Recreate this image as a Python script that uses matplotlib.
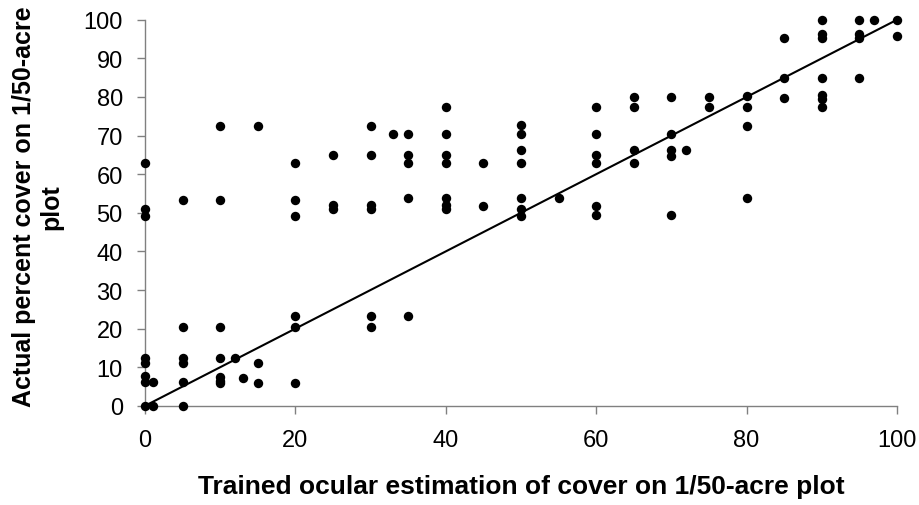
import matplotlib
matplotlib.use("Agg")
import matplotlib.pyplot as plt

# Trained ocular estimation (x) vs actual percent cover (y)
est_x = [0, 0, 0, 0, 0, 0, 0, 0,
         1, 1,
         5, 5, 5, 5, 5, 5,
         10, 10, 10, 10, 10, 10, 10,
         12, 13,
         15, 15, 15,
         20, 20, 20, 20, 20, 20,
         25, 25, 25,
         30, 30, 30, 30, 30, 30,
         33,
         35, 35, 35, 35, 35,
         40, 40, 40, 40, 40, 40, 40,
         45, 45,
         50, 50, 50, 50, 50, 50, 50,
         55,
         60, 60, 60, 60, 60, 60,
         65, 65, 65, 65,
         70, 70, 70, 70, 70,
         72,
         75, 75,
         80, 80, 80, 80,
         85, 85, 85,
         90, 90, 90, 90, 90, 90, 90,
         95, 95, 95, 95,
         97,
         100, 100]
actual_y = [62.8, 51, 49.2, 12.5, 11.2, 7.8, 6.2, 0,
            6.2, 0,
            53.4, 20.3, 12.5, 11.2, 6.2, 0,
            72.5, 53.4, 20.3, 12.5, 7.5, 6.5, 5.8,
            12.5, 7.2,
            72.5, 11.0, 5.8,
            62.8, 53.4, 49.2, 23.3, 20.3, 5.8,
            64.9, 52, 51,
            72.5, 64.9, 52, 51, 23.3, 20.3,
            70.5,
            70.5, 64.9, 62.8, 53.9, 23.3,
            77.3, 70.5, 64.9, 62.8, 53.9, 52, 51,
            62.8, 51.8,
            72.7, 70.5, 66.3, 62.8, 53.9, 51, 49.2,
            53.9,
            77.3, 70.5, 64.9, 62.8, 51.8, 49.4,
            79.9, 77.3, 66.3, 62.8,
            79.9, 70.5, 66.3, 64.8, 49.4,
            66.3,
            79.9, 77.3,
            80.3, 77.3, 72.5, 53.9,
            95.3, 84.9, 79.8,
            100, 96.3, 95.2, 84.9, 80.5, 79.5, 77.3,
            100, 96.3, 95.2, 84.9,
            100,
            100, 95.9]

line_x = [0, 100]
line_y = [0, 100]

x_ticks = [0, 20, 40, 60, 80, 100]
y_ticks = [0, 10, 20, 30, 40, 50, 60, 70, 80, 90, 100]

plt.rcParams['font.family'] = ['Liberation Sans', 'DejaVu Sans']

fig = plt.figure(figsize=(9.2, 5.06), dpi=100)
ax = fig.add_axes([0.1576, 0.196, 0.8174, 0.763])

ax.plot(line_x, line_y, color='black', lw=1.5, zorder=2, solid_capstyle='butt')
ax.scatter(est_x, actual_y, s=46, color='black', zorder=3, clip_on=False, linewidths=0)

ax.set_xlim(0, 100)
ax.set_ylim(0, 100)
ax.set_xticks(x_ticks)
ax.set_yticks(y_ticks)
ax.set_xticklabels([str(v) for v in x_ticks])
ax.set_yticklabels([str(v) for v in y_ticks])

for side in ['top', 'right']:
    ax.spines[side].set_visible(False)
for side in ['left', 'bottom']:
    ax.spines[side].set_color('#808080')
    ax.spines[side].set_linewidth(1.0)

ax.tick_params(axis='both', direction='out', length=6, width=1.0, color='#808080',
               labelsize=17, labelcolor='black')
ax.tick_params(axis='x', pad=11)
ax.tick_params(axis='y', pad=10)

ax.set_xlabel('Trained ocular estimation of cover on 1/50-acre plot',
              fontsize=19, fontweight='bold')
ax.set_ylabel('Actual percent cover on 1/50-acre\nplot',
              fontsize=18, fontweight='bold', linespacing=1.2)
ax.xaxis.set_label_coords(0.5, -0.177)
ax.yaxis.set_label_coords(-0.108, 0.518)

fig.savefig('out.png', dpi=100)
